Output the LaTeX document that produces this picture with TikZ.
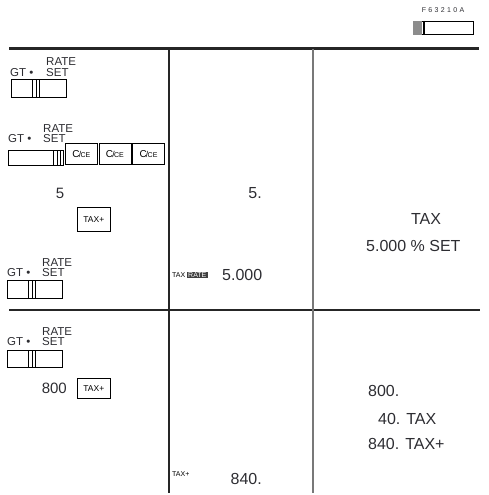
\documentclass[tikz,border=0pt]{standalone}
\usepackage{fontspec}
\setmainfont{Liberation Sans}
\usetikzlibrary{positioning}
\usepackage{xcolor}
\definecolor{inkgray}{RGB}{45,45,50}
\definecolor{rulegray}{RGB}{120,120,120}

\begin{document}
\begin{tikzpicture}[x=1pt,y=-1pt]
  \tikzset{
    rule/.style={draw=black!85, line width=1.2pt},
    switch/.style={
      draw,
      line width=0.8pt,
      minimum width=55pt,
      minimum height=18pt,
      inner sep=0pt,
      anchor=north west
    },
    thumb/.style={
      draw,
      line width=0.6pt,
      minimum width=7pt,
      minimum height=18pt,
      inner sep=0pt,
      anchor=west
    },
    swlabel/.style={
      font=\fontsize{11.5}{11.5}\selectfont,
      inner sep=0pt,
      text=inkgray
    },
    key/.style={
      draw,
      line width=0.6pt,
      minimum width=32pt,
      minimum height=21pt,
      inner sep=0pt,
      anchor=north west,
      font=\fontsize{8.5}{8.5}\selectfont
    },
    entry/.style={
      font=\fontsize{15}{15}\selectfont,
      inner sep=0pt,
      text=inkgray
    },
    shown/.style={
      font=\fontsize{16}{16}\selectfont,
      inner sep=0pt,
      text=inkgray
    },
    tag/.style={
      font=\fontsize{7}{7}\selectfont,
      inner sep=0pt
    }
  }
  \newcommand{\cekey}{{\fontsize{10}{10}\selectfont C}\kern-0.8pt/\kern-0.6pt{\fontsize{7}{7}\selectfont CE}}
  \useasboundingbox (0,0) rectangle (489,495);

  % model label and its switch
  \node[tag, font=\fontsize{7}{7}\selectfont, text=inkgray] (model) at (443,10) {F\,\,6\,\,3\,\,2\,\,1\,\,0\,\,A};
  \node[switch, minimum width=60pt, minimum height=13pt, line width=0.6pt] (msw) at (413,21) {};
  \fill[black!45] (msw.north west) rectangle ([xshift=9pt]msw.south west);
  \draw[line width=1.2pt] ([xshift=11pt]msw.north west) -- ([xshift=11pt]msw.south west);

  % table rules
  \coordinate (ta) at (9,48.5);
  \coordinate (tb) at (479,48.5);
  \coordinate (ma) at (9,310);
  \coordinate (mb) at (480,310);
  \coordinate (va) at (169,49);
  \coordinate (vb) at (169,493);
  \coordinate (wa) at (313,49);
  \coordinate (wb) at (313,493);
  \draw[rule, line width=2.4pt] (ta) -- (tb);
  \draw[rule] (ma) -- (mb);
  \draw[rule] (va) -- (vb);
  \draw[rule, draw=rulegray, line width=1.5pt] (wa) -- (wb);

  % first switch: GT . RATE SET in the middle
  \node[swlabel, anchor=west] (gt1) at (10,72.5) {GT •};
  \node[swlabel, anchor=west] (set1) at (46,72.5) {SET};
  \node[swlabel, anchor=south west] (rate1) at ([yshift=2.5pt]set1.north west) {RATE};
  \node[switch] (sw1) at (11,79) {};
  \node[thumb, right=21pt of sw1.west] (th1) {};
  \draw[line width=0.6pt] (th1.north) -- (th1.south);

  % second switch: RATE SET, then the C/CE keys
  \node[swlabel, anchor=west] (gt2) at (8,139) {GT •};
  \node[swlabel, anchor=west] (set2) at (43,139) {SET};
  \node[swlabel, anchor=south west] (rate2) at ([yshift=2.5pt]set2.north west) {RATE};
  \node[switch, minimum height=15pt] (sw2) at (8,150) {};
  \node[thumb, minimum height=15pt, right=45pt of sw2.west] (th2) {};
  \draw[line width=0.6pt] (th2.north) -- (th2.south);
  \node[key] (ce1) at (65,143) {\cekey};
  \node[key, right=1pt of ce1] (ce2) {\cekey};
  \node[key, right=1pt of ce2] (ce3) {\cekey};

  % rate entry
  \node[entry] (in5) at (60,193) {5};
  \node[key, minimum width=33pt, minimum height=24pt] (taxkey1) at (77,207) {TAX+};
  \node[shown, anchor=east] (out5) at (262,193) {5.};

  % third switch: back to the middle
  \node[swlabel, anchor=west] (gt3) at (7,273) {GT •};
  \node[swlabel, anchor=west] (set3) at (42,273) {SET};
  \node[swlabel, anchor=south west] (rate3) at ([yshift=2.5pt]set3.north west) {RATE};
  \node[switch] (sw3) at (7,280) {};
  \node[thumb, right=21pt of sw3.west] (th3) {};
  \draw[line width=0.6pt] (th3.north) -- (th3.south);

  % display and print-out of the rate
  \node[tag, anchor=west] (taxtag) at (172,275) {TAX};
  \node[tag, fill=black!75, text=white, inner xsep=1.5pt, inner ysep=1pt, right=1pt of taxtag] (ratetag) {RATE};
  \node[shown, anchor=west] (rateout) at (222,275) {5.000};
  \node[shown] (ptax) at (426,219) {TAX};
  \node[shown, anchor=west] (pset) at (366,246) {5.000 \% SET};

  % fourth switch: calculation
  \node[swlabel, anchor=west] (gt4) at (7,342) {GT •};
  \node[swlabel, anchor=west] (set4) at (42,342) {SET};
  \node[swlabel, anchor=south west] (rate4) at ([yshift=2.5pt]set4.north west) {RATE};
  \node[switch, minimum height=17pt] (sw4) at (7,350) {};
  \node[thumb, minimum height=17pt, right=21pt of sw4.west] (th4) {};
  \draw[line width=0.6pt] (th4.north) -- (th4.south);

  \node[entry, anchor=east] (in800) at (67,388) {800};
  \node[key, minimum width=33pt, minimum height=20pt] (taxkey2) at (77,378) {TAX+};

  % display and print-out of the sum
  \node[tag, anchor=west] (plustag) at (172,474) {TAX+};
  \node[shown, anchor=east] (sumout) at (262,479) {840.};
  \node[shown, anchor=west] (p800) at (368,391) {800.};
  \node[shown, anchor=west] (p40) at (378,419) {40. TAX};
  \node[shown, anchor=west] (p840) at (368,444) {840. TAX+};
\end{tikzpicture}
\end{document}
